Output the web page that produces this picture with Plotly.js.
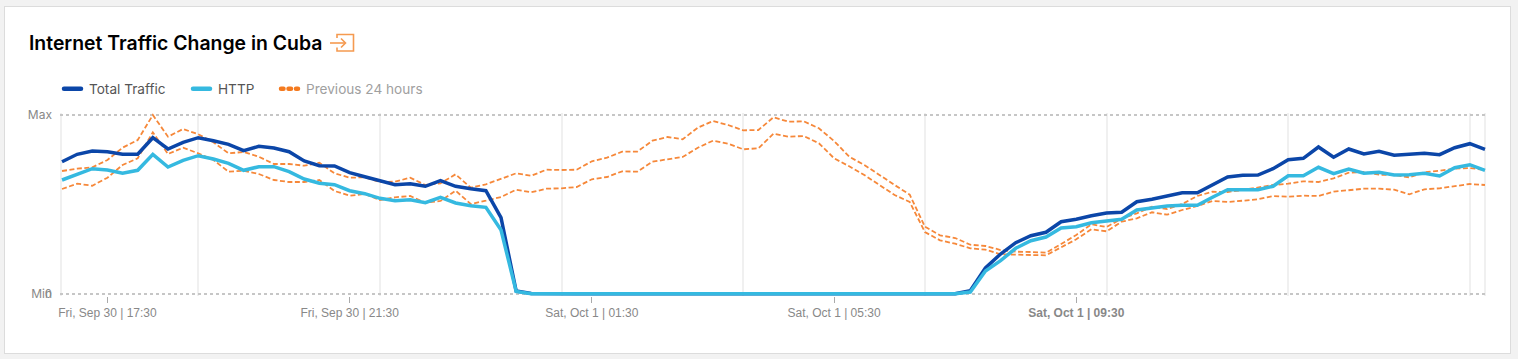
<!DOCTYPE html>
<html>
<head>
<meta charset="utf-8">
<script src="https://cdn.plot.ly/plotly-3.0.1.min.js"></script>
<style>
html,body{margin:0;padding:0;width:1518px;height:359px;overflow:hidden;background:#f2f2f2;}
#card{position:absolute;left:4px;top:6px;width:1505px;height:346px;background:#fff;border:1px solid #dcdcdc;}
#chart{position:absolute;left:0;top:0;width:1518px;height:359px;}
#icon{position:absolute;left:329px;top:32px;width:28px;height:22px;}
.legendlines path{stroke-linecap:round;d:path("M15 0h17");stroke-width:4.5px !important;}
</style>
</head>
<body>
<div id="card"></div>
<div id="chart"></div>
<svg id="icon" viewBox="0 0 28 22" fill="none" stroke="#f59a50" stroke-width="1.6">
  <path d="M8 6V2.5H24.5V19H8V15.5"/>
  <path d="M1 11H16"/>
  <path d="M12 6.5L16.5 11L12 15.5"/>
</svg>
<script>
// Relative traffic level, Min = 0, Max = 179
const total = [132.3,139.7,143,142.3,139.7,139.7,156.3,145,151.7,156.3,
  153.3,149.7,143.3,147.7,146,142.3,133,128.3,128,121.3,
  117.3,113,109.3,110.3,107.7,113.3,107.7,105.3,103.3,76.3,
  3,0.5,0.2,0.2,0.2,0.2,0.2,0.2,0.2,0.2,
  0.2,0.3,0.3,0.2,0.2,0.3,0.2,0.2,0.2,0.3,
  0.3,0.2,0.2,0.2,0.2,0.2,0.2,0.2,0.2,0.2,
  3.3,26,40,51.3,58.3,61.7,72.3,74.7,78.3,81,
  81.7,92.3,94.7,98.3,101.3,101.3,109,117,118.7,119,
  125.3,134.3,135.7,147,136.7,145,140,142.7,138.7,139.7,
  140.7,139.3,146.3,150.3,144.7];
const http = [114,119.7,125.3,124,120.7,123.7,139.7,127,133.7,138.3,
  135,130.7,123.7,127.3,127.3,122.3,115,110.7,109.3,103.3,
  100.3,95.7,93.3,94.3,91.3,96.7,91,88.3,86.7,64,
  2.5,0.3,0.2,0.2,0.2,0.2,0.2,0.2,0.2,0.2,
  0.2,0.3,0.3,0.2,0.2,0.3,0.2,0.2,0.2,0.3,
  0.3,0.2,0.2,0.2,0.2,0.2,0.2,0.2,0.2,0.2,
  2,23,33.3,45.7,53.3,57,66,67.3,71.3,72.7,
  74.7,84,85.7,88,88.7,88.7,96.7,104.3,104.3,104.3,
  107.7,118.3,118.3,126.7,120.3,125,120.7,121.7,119,119.3,
  120.7,118,126.3,129.3,123.7];
const prevUpper = [123,125.3,126.7,134,146.3,154,179,157.3,165,159.7,
  151.7,140.7,142,137.3,130,130,128.3,131.3,120.7,116.3,
  116.7,112,112.3,116.3,109,110.7,119.7,106.3,109.7,115.3,
  120.7,118.3,124.3,124,124.3,132.7,136.3,142.3,142.3,153.3,
  157,154.7,166.3,173,169,163.7,164,176.7,172.3,172.7,
  165.7,153,137.3,129,118.7,109,99.3,67.3,58.7,56,
  49.3,48,44,42.3,42,41.3,50,59,69.7,67,
  75.3,80.7,87.3,85,90,98,102.3,102,104,106.3,
  109,110.3,112.7,112,115.7,121.3,122,119.3,119,116.7,
  121.7,123.3,125.3,126,124];
const prevLower = [105,110.3,108.3,116.3,129,135.7,161.7,140,146.3,140.7,
  134,122.3,123.3,120,114,112,112,114,103,98.3,
  100,94,96.7,98,91.3,93,103.3,90,93.3,97,
  104.3,101.7,105.3,105.7,107,114.7,117,122.7,122.3,132.3,
  134.7,137,146.3,153.3,150.3,144.7,145.7,160.3,157.3,158,
  150.7,135.7,127.7,119,109,99,92,62,53.7,50.3,
  45.7,44.3,39.7,39,39,38.7,46.3,54.7,64.7,62.7,
  72.3,75.7,81.7,79.3,84,88,93,92,93.3,94.7,
  98,97.3,98.3,98,102.3,104,105.3,105.3,104.3,99.7,
  104.7,105.7,107.7,110,109];

const startTime = "2022-09-30T16:45:00Z";
const stepMinutes = 15;
const xRange = ["2022-09-30 16:43","2022-10-01 16:17"];
const tickTimes = ["2022-09-30 17:30","2022-09-30 21:30","2022-10-01 01:30","2022-10-01 05:30","2022-10-01 09:30"];
const tickLabels = ["Fri, Sep 30 | 17:30","Fri, Sep 30 | 21:30","Sat, Oct 1 | 01:30","Sat, Oct 1 | 05:30","<b>Sat, Oct 1 | 09:30</b>"];
const gridTimes = ["2022-09-30 16:44","2022-09-30 19:00","2022-09-30 22:00","2022-10-01 01:00","2022-10-01 04:00","2022-10-01 07:00","2022-10-01 10:00","2022-10-01 13:00","2022-10-01 16:00","2022-10-01 16:15"];
const yRange = [-2,181];
const yTickVals = [0,179];
const yTickLabels = ["Min","Max"];

const fmt = d => d.toISOString().slice(0,16).replace("T"," ");
const t0 = new Date(startTime).getTime();
const times = total.map((_, i) => fmt(new Date(t0 + i*stepMinutes*60000)));

const ORANGE = "#f6883a", NAVY = "#0b46a8", SKY = "#35b9e0";
const common = {x: times, mode: "lines", type: "scatter", cliponaxis: false, hoverinfo: "skip"};
const traces = [
  {...common, y: prevUpper, name: "Previous 24 hours", showlegend: false, line: {color: ORANGE, width: 1.8, dash: "5px,2.5px"}},
  {...common, y: prevLower, name: "Previous 24 hours", showlegend: false, line: {color: ORANGE, width: 1.8, dash: "5px,2.5px"}},
  {...common, y: total, name: "Total Traffic", legend: "legend", line: {color: NAVY, width: 3.5}},
  {...common, y: http, name: "HTTP", legend: "legend2", line: {color: SKY, width: 3.5}},
  {x: [null], y: [null], mode: "lines", type: "scatter", legend: "legend3",
   name: '<span style="color:#a0a0a0">Previous 24 hours</span>',
   line: {color: "#f47a1f", width: 4, dash: "2.5px,5px"}}
];

const plotLeft = 60, plotWidth = 1427, plotHeight = 183;
const legendBase = {orientation: "h", xanchor: "left", y: 1 + (113-89)/plotHeight, yanchor: "middle",
  font: {family: "Inter", size: 13.6, color: "#555"}, bgcolor: "rgba(0,0,0,0)"};

const layout = {
  width: 1518, height: 359,
  margin: {l: plotLeft, r: 31, t: 113, b: 63, pad: 0},
  paper_bgcolor: "rgba(0,0,0,0)", plot_bgcolor: "rgba(0,0,0,0)",
  font: {family: "Inter, Arial, sans-serif", size: 12, color: "#888"},
  title: {text: "Internet Traffic Change in Cuba", xref: "container", yref: "container",
    x: 29/1518, xanchor: "left", y: 1-43/359, yanchor: "middle",
    font: {family: "Inter", size: 19.4, weight: 600, color: "#000"}},
  showlegend: true,
  legend: {...legendBase, x: (49-plotLeft)/plotWidth},
  legend2: {...legendBase, x: (178-plotLeft)/plotWidth},
  legend3: {...legendBase, x: (266-plotLeft)/plotWidth},
  xaxis: {
    type: "date", range: xRange,
    tickmode: "array", tickvals: tickTimes, ticktext: tickLabels,
    ticks: "outside", ticklen: 6, tickwidth: 1, tickcolor: "#aaa",
    tickfont: {family: "Liberation Sans, Arial, sans-serif", size: 12, color: "#888"},
    showgrid: false, zeroline: false, showline: false, tickangle: 0,
    minor: {tickmode: "array", tickvals: gridTimes, showgrid: true, gridcolor: "#f0f0f0", gridwidth: 2, ticks: ""}
  },
  yaxis: {
    range: yRange, tickmode: "array", tickvals: yTickVals, ticktext: yTickLabels,
    ticks: "", showgrid: true, gridcolor: "#c6c6c6", gridwidth: 1.5, griddash: "dot",
    zeroline: false, showline: false,
    tickfont: {family: "Inter", size: 12, color: "#888"}, ticklabelstandoff: 7
  },
  annotations: [{text: "0", xref: "paper", yref: "y", x: 0, y: 0, xanchor: "right", yanchor: "middle",
    xshift: -6, showarrow: false, font: {family: "Liberation Sans, Arial", size: 12, color: "#888"}}]
};
Plotly.newPlot("chart", traces, layout, {displayModeBar: false, staticPlot: true});
</script>
</body>
</html>
